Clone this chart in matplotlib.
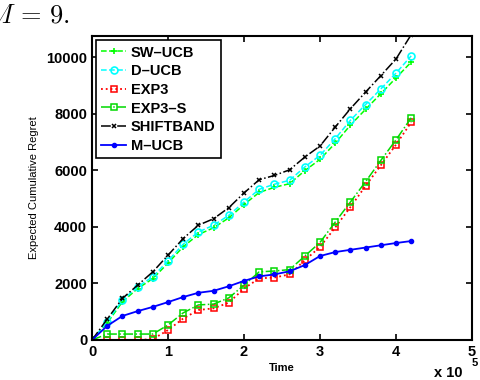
import matplotlib
matplotlib.use('Agg')
import matplotlib.pyplot as plt

plt.rcParams['font.family'] = ['Liberation Sans', 'DejaVu Sans']
plt.rcParams['mathtext.fontset'] = 'cm'

# time in units of 1e5
time = [0, 0.2, 0.4, 0.6, 0.8, 1.0, 1.2, 1.4, 1.6, 1.8, 2.0,
        2.2, 2.4, 2.6, 2.8, 3.0, 3.2, 3.4, 3.6, 3.8, 4.0, 4.2]

sw_ucb = [0, 600, 1350, 1820, 2170, 2720, 3300, 3730, 3970, 4320, 4790,
          5220, 5400, 5530, 5990, 6390, 6960, 7600, 8160, 8710, 9270, 9830]
d_ucb = [0, 650, 1410, 1880, 2240, 2800, 3390, 3820, 4060, 4410, 4880,
         5330, 5510, 5650, 6120, 6530, 7120, 7770, 8330, 8880, 9440, 10050]
exp3 = [0, 0, 0, 0, 30, 350, 760, 1060, 1120, 1320, 1820,
        2180, 2210, 2320, 2820, 3290, 3980, 4700, 5450, 6180, 6910, 7700]
exp3_s = [0, 210, 210, 210, 210, 530, 960, 1240, 1270, 1490, 1940,
          2410, 2440, 2490, 2970, 3450, 4170, 4880, 5600, 6350, 7080, 7860]
shiftband = [0, 740, 1470, 1940, 2410, 3000, 3590, 4060, 4290, 4680, 5200,
             5670, 5820, 6020, 6470, 6860, 7530, 8180, 8770, 9350, 9940, 10800]
m_ucb = [0, 500, 850, 1020, 1170, 1340, 1520, 1670, 1740, 1900, 2090,
         2250, 2320, 2430, 2650, 2970, 3110, 3190, 3270, 3350, 3430, 3500]

fig = plt.figure(figsize=(4.8, 3.8), dpi=100)
ax = fig.add_axes([0.1917, 0.1053, 0.7916, 0.7997])

ax.plot(time, sw_ucb, '--', color=(0, 1, 0), marker='+', ms=4, mew=1.2, lw=1.1, label='SW\u2013UCB')
ax.plot(time, d_ucb, '--', color=(0, 1, 1), marker='o', ms=5, mfc='none', mew=1.2, lw=1.1, label='D\u2013UCB')
ax.plot(time, exp3, ':', color=(1, 0, 0), marker='s', ms=4, mfc='none', mew=1.1, lw=1.3, label='EXP3')
ax.plot(time, exp3_s, '-.', color=(0, 0.85, 0), marker='s', ms=4, mfc='none', mew=1.1, lw=1.1, label='EXP3\u2013S')
ax.plot(time, shiftband, '-.', color='black', marker='x', ms=3.5, mew=1.1, lw=1.1, label='SHIFTBAND')
ax.plot(time, m_ucb, '-', color=(0, 0, 1), marker='.', ms=6, lw=1.3, label='M\u2013UCB')

ax.set_xlim(0, 5)
ax.set_ylim(0, 10750)
ax.set_xticks([0, 1, 2, 3, 4, 5])
ax.set_yticks([0, 2000, 4000, 6000, 8000, 10000])
ax.tick_params(direction='in', top=True, right=True, length=4, width=1.2, labelsize=10.5)
for lab in ax.get_xticklabels() + ax.get_yticklabels():
    lab.set_fontweight('bold')
for sp in ax.spines.values():
    sp.set_linewidth(1.5)

ax.set_xlabel('Time', fontsize=8, fontweight='bold', labelpad=3)
ax.set_ylabel('Expected Cumulative Regret', fontsize=8, labelpad=5)
fig.text(0.905, 0.008, 'x 10', fontsize=10.5, fontweight='bold', ha='left')
fig.text(0.982, 0.036, '5', fontsize=8, fontweight='bold', ha='left')

leg = ax.legend(loc='upper left', fontsize=10.5, handlelength=1.7, handletextpad=0.3,
                borderpad=0.35, labelspacing=0.32, fancybox=False, framealpha=1,
                edgecolor='black', borderaxespad=0.3)
leg.get_frame().set_linewidth(1.2)
for t in leg.get_texts():
    t.set_fontweight('bold')

# caption fragment from the source page, cut at the left edge as in the original
fig.text(-0.03, 0.96, r'$M\,=\,9.$', fontsize=19, va='center', ha='left')

fig.savefig('out.png', dpi=100)
